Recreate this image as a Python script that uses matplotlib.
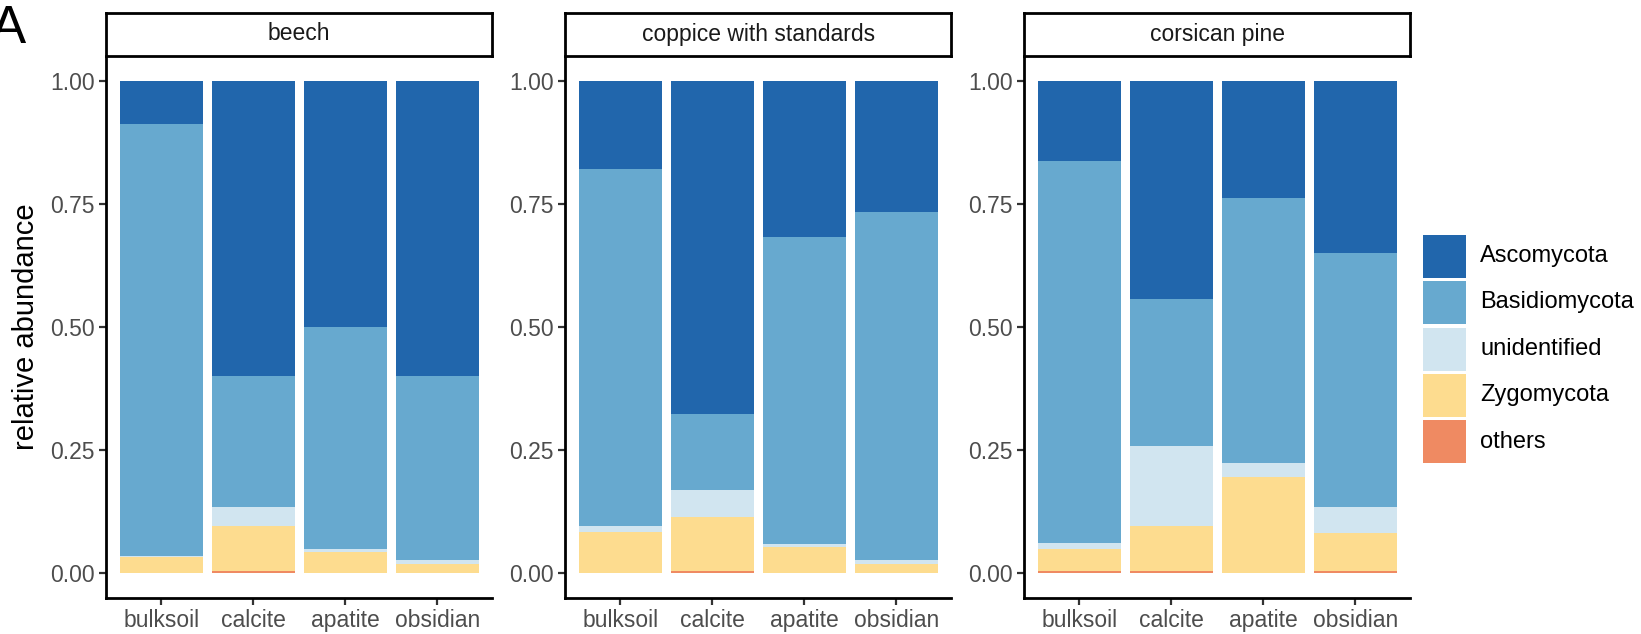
import matplotlib
matplotlib.use("Agg")
import matplotlib.pyplot as plt
import numpy as np

plt.rcParams['font.family'] = ['Liberation Sans', 'DejaVu Sans']

facets = ["beech", "coppice with standards", "corsican pine"]
samples = ["bulksoil", "calcite", "apatite", "obsidian"]
groups = ["Ascomycota", "Basidiomycota", "unidentified", "Zygomycota", "others"]
colors = ["#2166AC", "#67A9CF", "#D1E5F0", "#FDDC8F", "#EF8A62"]

# values per facet, order: bulksoil, calcite, apatite, obsidian
others = {
    "beech": [0.000, 0.003, 0.000, 0.000],
    "coppice with standards": [0.000, 0.003, 0.000, 0.000],
    "corsican pine": [0.003, 0.003, 0.000, 0.003],
}
zygomycota = {
    "beech": [0.032, 0.093, 0.043, 0.019],
    "coppice with standards": [0.084, 0.111, 0.053, 0.018],
    "corsican pine": [0.046, 0.093, 0.194, 0.078],
}
unidentified = {
    "beech": [0.003, 0.038, 0.006, 0.007],
    "coppice with standards": [0.012, 0.055, 0.006, 0.008],
    "corsican pine": [0.012, 0.163, 0.030, 0.053],
}
basidiomycota = {
    "beech": [0.878, 0.267, 0.450, 0.375],
    "coppice with standards": [0.725, 0.155, 0.623, 0.707],
    "corsican pine": [0.777, 0.297, 0.539, 0.516],
}
ascomycota = {
    "beech": [0.087, 0.599, 0.501, 0.599],
    "coppice with standards": [0.179, 0.676, 0.318, 0.267],
    "corsican pine": [0.162, 0.444, 0.237, 0.350],
}
ytick_vals = [0.0, 0.25, 0.5, 0.75, 1.0]
ytick_labels = ["0.00", "0.25", "0.50", "0.75", "1.00"]

W, H = 1641, 634
fig = plt.figure(figsize=(W / 100, H / 100), dpi=100)

panel_lefts = [106, 565, 1024]
panel_w = 386.4
panel_top = 56.5
panel_bot = 597.5
strip_top = 12.5
strip_bot = 55.5

tick_col = "#4D4D4D"
fs_tick = 16.5

stack_order = [("others", others, colors[4]),
               ("Zygomycota", zygomycota, colors[3]),
               ("unidentified", unidentified, colors[2]),
               ("Basidiomycota", basidiomycota, colors[1]),
               ("Ascomycota", ascomycota, colors[0])]

for fi, facet in enumerate(facets):
    l = panel_lefts[fi]
    ax = fig.add_axes([l / W, 1 - panel_bot / H, panel_w / W, (panel_bot - panel_top) / H])
    x = np.arange(1, len(samples) + 1)
    bottom = np.zeros(len(samples))
    for name, d, c in stack_order:
        vals = np.array(d[facet])
        ax.bar(x, vals, width=0.9, bottom=bottom, color=c, linewidth=0)
        bottom = bottom + vals
    ax.set_xlim(0.4, 4.6)
    ax.set_ylim(-0.05, 1.05)
    ax.set_xticks(x)
    ax.set_xticklabels(samples, fontsize=fs_tick, color=tick_col)
    ax.set_yticks(ytick_vals)
    ax.set_yticklabels(ytick_labels, fontsize=fs_tick, color=tick_col)
    for s in ["top", "right"]:
        ax.spines[s].set_visible(False)
    for s in ["left", "bottom"]:
        ax.spines[s].set_linewidth(2.0)
        ax.spines[s].set_color("black")
    ax.tick_params(axis="both", length=5, width=1.6, color="#333333", pad=3)

    sax = fig.add_axes([l / W, 1 - strip_bot / H, panel_w / W, (strip_bot - strip_top) / H])
    sax.set_xticks([])
    sax.set_yticks([])
    for s in sax.spines.values():
        s.set_linewidth(2.0)
        s.set_color("black")
    sax.text(0.5, 0.5, facet, ha="center", va="center", fontsize=fs_tick, color="#1A1A1A",
             transform=sax.transAxes)

fig.text(26 / W, 1 - 327 / H, "relative abundance", rotation=90, ha="center", va="center",
         fontsize=21, color="black")
fig.text(-9 / W, 1 - 43 / H, "A", ha="left", va="baseline", fontsize=38, color="black")

# legend
key_x, key_w, key_h = 1423, 43, 43
key_tops = [235, 281, 327.5, 374, 420]
for g, c, kt in zip(groups, colors, key_tops):
    fig.patches.append(plt.Rectangle((key_x / W, 1 - (kt + key_h) / H), key_w / W, key_h / H,
                                     transform=fig.transFigure, facecolor=c, edgecolor="none"))
    fig.text(1480 / W, 1 - (kt + key_h / 2) / H, g, ha="left", va="center", fontsize=17,
             color="black")

fig.savefig("out.png", dpi=100)
